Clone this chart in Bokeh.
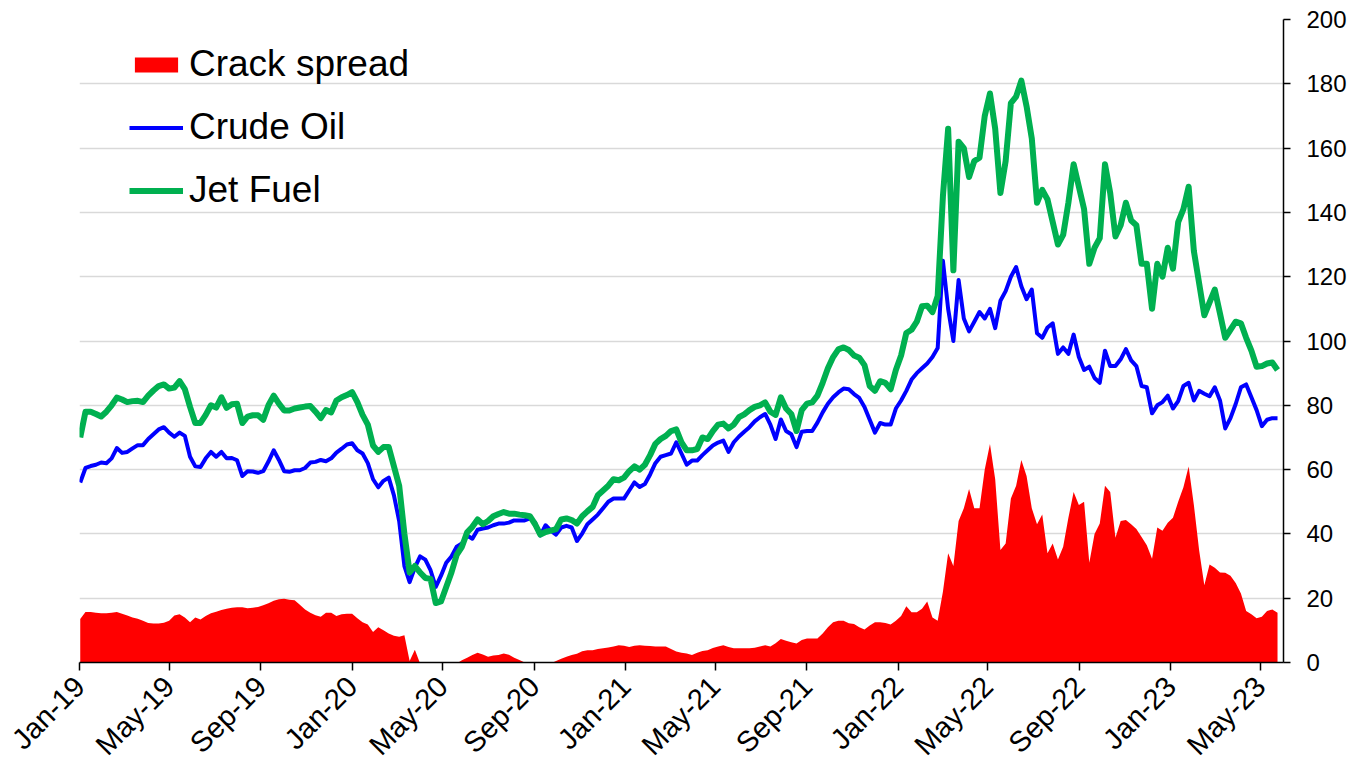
from datetime import datetime
import numpy as np
import pandas as pd
from bokeh.plotting import figure
from bokeh.models import Range1d, FixedTicker, DatetimeTickFormatter, Legend
from bokeh.embed import file_html
from bokeh.resources import INLINE

# ---------------- data (weekly readings, USD) ----------------
crude_oil = [
    56, 60.5, 61.1, 61.5, 62.2, 62, 63.5, 66.7, 65.2, 65.5,
    66.6, 67.6, 67.6, 69.5, 71, 72.5, 73.2, 71.5, 70.2, 71.5,
    70.5, 64, 61, 60.8, 63.5, 65.5, 64, 65.5, 63.5, 63.6,
    62.9, 58, 59.5, 59.4, 59, 59.5, 62.5, 66, 63, 59.5,
    59.3, 59.8, 59.8, 60.5, 62.2, 62.4, 63, 62.6, 63.5, 65.3,
    66.5, 67.8, 68.2, 66, 65, 62,
    57, 54.5, 56.5, 57.5, 52, 44, 30, 25, 29.5, 33,
    32, 28.7, 23.5, 27, 31, 33, 36, 37, 39.5, 38.5,
    41.3, 41.7, 42, 42.7, 43.2, 43.2, 43.5, 44.2, 44.2, 44.2,
    44.8, 43.5, 39.5, 42.7, 41, 39.8, 42, 42.5, 42, 37.8,
    40.1, 43, 44.5, 46, 48, 50, 51, 51, 51, 53.5,
    56, 54.6,
    55.5, 58.5, 62, 64, 64.5, 65, 68.5, 65, 61.5, 62.8,
    62.8, 64.5, 66, 67.5, 68.4, 69, 65.5, 68.5, 70.3, 71.8,
    73.2, 75, 76.3, 77.3, 74, 69.5, 75.6, 72, 71, 67,
    71.8, 72, 72, 74.6, 77.8, 80.5, 82.5, 84, 85.2, 85,
    83.5, 82.3, 79.5, 75.5, 71.5, 74.5, 74, 74, 79,
    81.5, 84.5, 88, 90, 91.5, 93, 95, 97.8,
    125, 110, 100, 119, 107, 103, 106, 109, 107, 110,
    104, 112.5, 115.5, 120, 123, 117, 113, 116, 102.4, 101,
    104.2, 105.5, 96, 98, 96, 102, 95, 91, 92, 88.5,
    87, 97, 92.2, 92.2, 94.3, 97.5, 94, 92.2, 86, 85.6,
    77.5, 80, 81, 83, 79, 81.3, 86, 87, 81.5, 84.5,
    83.6, 82.8, 85.6, 81.5, 72.8, 76, 80.4, 85.6, 86.5, 82.5,
    78.5, 73.5, 75.5, 76, 76,
]

jet_fuel = [
    70, 78, 78, 77.3, 76.5, 78, 80, 82.4, 81.8, 81,
    81.3, 81.4, 81, 83, 84.6, 86, 86.5, 85.2, 85.5, 87.5,
    85, 79.5, 74.5, 74.5, 77, 80, 79.3, 82.5, 79.2, 80.3,
    80.5, 74.5, 76.5, 76.9, 76.9, 75.5, 80, 83, 80.5, 78.4,
    78.4, 79, 79.3, 79.6, 79.8, 78, 76, 78.5, 77.8, 81.5,
    82.5, 83.2, 84.1, 81, 77, 74,
    67.5, 65.5, 67, 67, 61, 55, 40, 28, 30, 28,
    26.3, 26, 18.5, 19, 23.5, 28, 33.5, 36, 40.5, 42.2,
    44.5, 43, 44, 45.5, 46.2, 46.8, 46.3, 46.3, 46, 45.8,
    45.5, 43, 39.8, 40.6, 41, 41.5, 44.5, 44.8, 44.3, 43.2,
    45.5, 47, 48.4, 52, 53.5, 55, 57, 56.7, 57.5, 59.5,
    61, 60,
    61.5, 64.5, 68, 69.5, 70.5, 72, 72.5, 68.5, 66, 66,
    66.4, 70, 69.5, 72, 74, 74.3, 72.8, 74, 76.3, 77.2,
    78.5, 79.5, 80, 80.9, 78, 77, 82.5, 79, 77.3, 72,
    78.5, 80.5, 80.9, 83, 87, 91.5, 95, 97.4, 98, 97.2,
    95.5, 94.8, 92.5, 86, 84.5, 87.5, 87, 85, 91,
    95.5, 102.5, 103.5, 106, 110.8, 111, 109, 114,
    145, 166, 122, 162, 160, 151, 156, 157, 170, 177,
    166, 146, 156, 174, 176, 181, 173, 163, 143, 147,
    144, 137, 130, 133, 143, 155, 148, 141, 124, 129,
    132, 155, 146, 132.5, 136, 143, 137.5, 136, 124, 124,
    110, 124, 120, 129, 122.5, 137, 141, 148, 128, 118,
    108, 112, 116, 108.5, 101, 103.5, 106, 105.5, 101, 97,
    92, 92.2, 93, 93.3, 91,
]

crack_spread = [
    13.5, 15.7, 15.7, 15.5, 15.3, 15.3, 15.5, 15.7, 15.2, 14.6,
    14, 13.6, 13, 12.3, 12.1, 12.1, 12.4, 13, 14.6, 15,
    14, 12.5, 14, 13.4, 14.5, 15.3, 15.8, 16.3, 16.7, 17,
    17.2, 17.2, 16.9, 17, 17.3, 17.8, 18.4, 19.2, 19.7, 19.8,
    19.5, 19.4, 18, 16.5, 15.5, 14.7, 14.2, 15.5, 15.5, 14.5,
    15, 15.2, 15.2, 13.8, 12.5, 11.8,
    9.5, 11, 10, 9, 8.3, 8, 8.5, 0.5, 4, -0.3,
    -0.5, -0.5, -0.5, -0.8, -0.5, -0.5, -0.3, 0.7, 1.5, 2.3,
    3, 2.5, 1.8, 2.2, 2.3, 2.8, 2.4, 1.5, 0.8, 0,
    -0.5, -0.3, -0.5, -0.3, -0.3, 0.5, 1.2, 1.8, 2.3, 2.7,
    3.5, 3.8, 3.8, 4.2, 4.4, 4.7, 5, 5.4, 5.2, 4.8,
    5.2, 5.4,
    5.2, 5.1, 5, 5, 5, 4.2, 3.4, 3, 2.8, 2.3,
    3, 3.6, 3.8, 4.5, 5, 5.4, 4.8, 4.4, 4.4, 4.4,
    4.4, 4.6, 5, 5.4, 5, 6, 7.3, 6.8, 6.3, 5.9,
    7, 7.5, 7.5, 7.5, 9, 11, 12.5, 13, 13, 12.2,
    12, 11, 10.3, 11.5, 12.5, 12.5, 12.3, 11.8, 13,
    14.5, 17.5, 15.6, 15.6, 16.7, 19, 14, 13,
    22, 34, 30, 44, 48, 54, 48, 48, 60, 68,
    57, 35, 37, 51, 55, 63, 58, 48, 43, 46,
    34, 37, 32, 36, 45, 53, 49, 50, 31, 40,
    43.2, 55, 53, 38.8, 44, 44.3, 43, 41.5, 39, 36.5,
    32.3, 42, 41, 43.5, 45, 50, 54.5, 61, 49, 35,
    24, 30.5, 29.5, 28, 27.9, 27, 24.7, 21.5, 16, 15,
    13.8, 14.2, 16, 16.5, 15.5,
]

tick_dates = [
    "2019-01-01", "2019-05-01", "2019-09-01",
    "2020-01-01", "2020-05-01", "2020-09-01",
    "2021-01-01", "2021-05-01", "2021-09-01",
    "2022-01-01", "2022-05-01", "2022-09-01",
    "2023-01-01", "2023-05-01",
]
y_ticks = [0, 20, 40, 60, 80, 100, 120, 140, 160, 180, 200]

series_names = ["Crack spread", "Crude Oil", "Jet Fuel"]

# weekly observation dates
dates = pd.date_range("2019-01-02", periods=len(crude_oil), freq="7D")

FONT = "Liberation Sans"

p = figure(
    frame_width=1204, frame_height=643,
    x_axis_type="datetime", y_axis_location="right",
    x_range=Range1d(datetime(2019, 1, 1), datetime(2023, 6, 1)),
    y_range=Range1d(0, 200),
    output_backend="svg", toolbar_location=None,
    min_border_left=79, min_border_right=69,
    min_border_top=19, min_border_bottom=0,
)
p.outline_line_color = None
p.background_fill_color = "white"
p.border_fill_color = "white"

p.xgrid.visible = False
p.ygrid.grid_line_color = "#d9d9d9"
p.ygrid.grid_line_width = 1.5

r_crack = p.varea(x=dates, y1=0, y2=crack_spread, fill_color="#FF0000")
r_crude = p.line(dates, crude_oil, line_color="#0000FF", line_width=4,
                 line_join="round")
r_jet = p.line(dates, jet_fuel, line_color="#00B050", line_width=6,
               line_join="round")

# x axis
p.xaxis.ticker = FixedTicker(
    ticks=[pd.Timestamp(d).value // 10**6 for d in tick_dates], minor_ticks=[])
fmt = "%b-%y"
p.xaxis.formatter = DatetimeTickFormatter(
    milliseconds=fmt, seconds=fmt, minsec=fmt, minutes=fmt, hourmin=fmt,
    hours=fmt, days=fmt, months=fmt, years=fmt)
p.xaxis.major_label_orientation = np.pi / 4
p.xaxis.major_label_text_font = FONT
p.xaxis.major_label_text_font_size = "29px"
p.xaxis.major_label_text_color = "black"
p.xaxis.major_label_standoff = 11
p.xaxis.axis_line_color = "black"
p.xaxis.axis_line_width = 1.5
p.xaxis.major_tick_line_color = "black"
p.xaxis.major_tick_line_width = 1.5
p.xaxis.major_tick_out = 8
p.xaxis.major_tick_in = 0
p.xaxis.minor_tick_out = 0
p.xaxis.minor_tick_in = 0

# y axis (right)
p.yaxis.ticker = FixedTicker(ticks=y_ticks, minor_ticks=[])
p.yaxis.major_label_text_font = FONT
p.yaxis.major_label_text_font_size = "24px"
p.yaxis.major_label_text_color = "black"
p.yaxis.major_label_standoff = 16
p.yaxis.axis_line_color = "black"
p.yaxis.axis_line_width = 1.5
p.yaxis.major_tick_line_color = "black"
p.yaxis.major_tick_line_width = 1.5
p.yaxis.major_tick_out = 7
p.yaxis.major_tick_in = 0
p.yaxis.minor_tick_out = 0
p.yaxis.minor_tick_in = 0

legend = Legend(
    items=[(series_names[0], [r_crack]),
           (series_names[1], [r_crude]),
           (series_names[2], [r_jet])],
    location=(50, 451),
    background_fill_alpha=0, border_line_color=None,
    label_text_font=FONT, label_text_font_size="37px",
    label_text_color="black",
    glyph_width=54, glyph_height=19, label_standoff=6,
    spacing=21, padding=0, margin=0,
)
p.add_layout(legend)

open("out.html", "w").write(file_html(p, INLINE))
